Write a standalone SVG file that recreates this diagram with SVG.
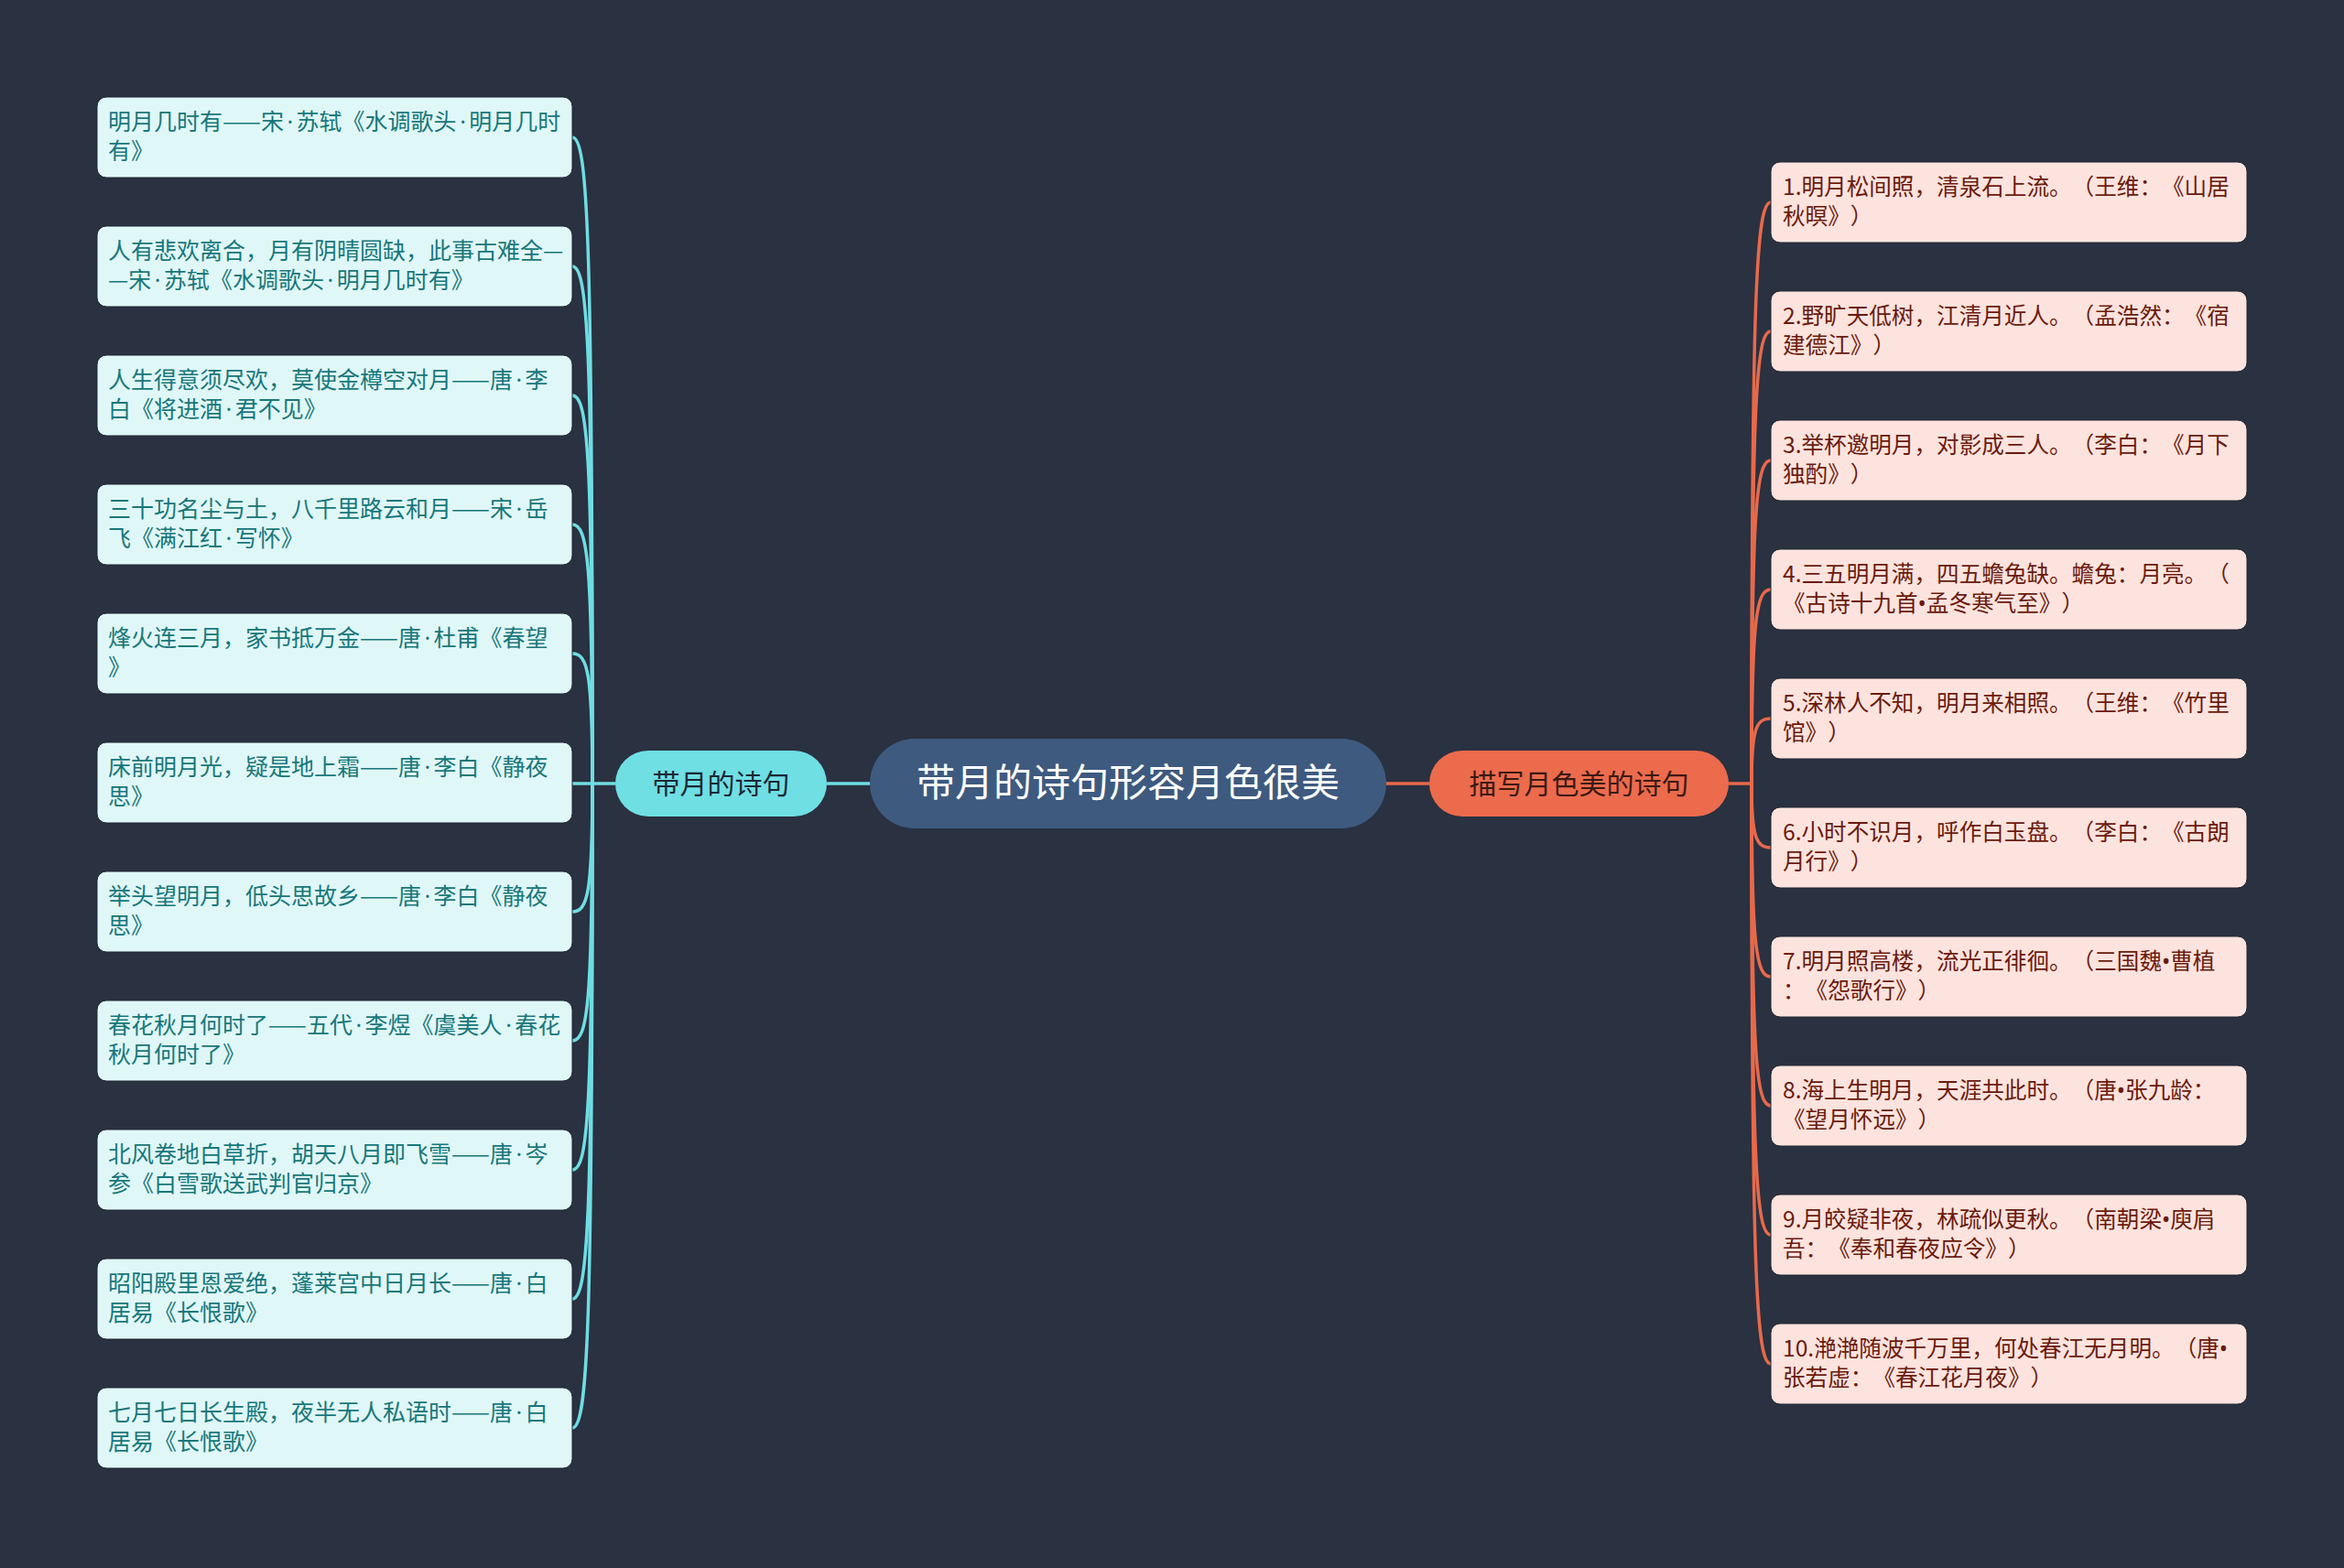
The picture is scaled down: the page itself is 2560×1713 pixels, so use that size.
<svg xmlns="http://www.w3.org/2000/svg" width="2560" height="1713" viewBox="0 0 2560 1713">
<style>
text{font-family:"Noto Sans CJK SC","Noto Sans",sans-serif;text-spacing-trim:space-all}
.d{font-family:"Noto Sans","Liberation Sans",sans-serif}
.m{letter-spacing:3.5px}
.lb{fill:#e0f7f7;stroke:#1f2633;stroke-width:1}
.lt{fill:#17777b;font-size:25px}
.rb{fill:#fde3de;stroke:#1f2633;stroke-width:1}
.rt{fill:#6b1a0c;font-size:24.6px}
.cl{fill:none;stroke:#6fdde3;stroke-width:3.5}
.cr{fill:none;stroke:#e8694b;stroke-width:3.5}
</style>
<rect width="2560" height="1713" fill="#2a3140"/>
<g id="connectors">
<path class="cl" d="M903 856H950"/>
<path class="cr" d="M1514 856H1561"/>
<path class="cl" d="M672 856H625"/>
<path class="cl" d="M647 856C647 256 642 150 625 150"/>
<path class="cl" d="M647 856C647 376 642 291 625 291"/>
<path class="cl" d="M647 856C647 496 642 432 625 432"/>
<path class="cl" d="M647 856C647 615 642 573 625 573"/>
<path class="cl" d="M647 856C647 735 642 714 625 714"/>
<path class="cl" d="M647 856C647 975 642 996 625 996"/>
<path class="cl" d="M647 856C647 1095 642 1137 625 1137"/>
<path class="cl" d="M647 856C647 1215 642 1278 625 1278"/>
<path class="cl" d="M647 856C647 1335 642 1419 625 1419"/>
<path class="cl" d="M647 856C647 1454 642 1560 625 1560"/>
<path class="cr" d="M1888 856H1913"/>
<path class="cr" d="M1913 856C1913 316 1918 221 1934 221"/>
<path class="cr" d="M1913 856C1913 436 1918 362 1934 362"/>
<path class="cr" d="M1913 856C1913 556 1918 503 1934 503"/>
<path class="cr" d="M1913 856C1913 676 1918 644 1934 644"/>
<path class="cr" d="M1913 856C1913 796 1918 785 1934 785"/>
<path class="cr" d="M1913 856C1913 915 1918 926 1934 926"/>
<path class="cr" d="M1913 856C1913 1035 1918 1067 1934 1067"/>
<path class="cr" d="M1913 856C1913 1155 1918 1208 1934 1208"/>
<path class="cr" d="M1913 856C1913 1275 1918 1349 1934 1349"/>
<path class="cr" d="M1913 856C1913 1395 1918 1490 1934 1490"/>
</g>
<g id="root">
<rect x="950" y="807" width="564" height="98" rx="49" fill="#3e5a7f"/>
<text x="1232" y="870" font-size="42" fill="#ffffff" text-anchor="middle">带月的诗句形容月色很美</text>
</g>
<g id="branch-left">
<rect x="672" y="820" width="231" height="72" rx="36" fill="#6fdfe4"/>
<text x="787.5" y="867" font-size="30" fill="#1d2733" text-anchor="middle">带月的诗句</text>
</g>
<g id="branch-right">
<rect x="1561" y="820" width="327" height="72" rx="36" fill="#ec6b4d"/>
<text x="1724.5" y="867" font-size="30" fill="#3b1a12" text-anchor="middle">描写月色美的诗句</text>
</g>
<g id="l1"><rect class="lb" x="106" y="106" width="519" height="88" rx="10"/><text class="lt" x="118" y="142">明月几时有——宋<tspan class="d m" dx="3.5">·</tspan>苏轼《水调歌头<tspan class="d m" dx="3.5">·</tspan>明月几时</text><text class="lt" x="118" y="174">有》</text></g>
<g id="l2"><rect class="lb" x="106" y="247" width="519" height="88" rx="10"/><text class="lt" x="118" y="283">人有悲欢离合，月有阴晴圆缺，此事古难全—</text><text class="lt" x="118" y="315">—宋<tspan class="d m" dx="3.5">·</tspan>苏轼《水调歌头<tspan class="d m" dx="3.5">·</tspan>明月几时有》</text></g>
<g id="l3"><rect class="lb" x="106" y="388" width="519" height="88" rx="10"/><text class="lt" x="118" y="424">人生得意须尽欢，莫使金樽空对月——唐<tspan class="d m" dx="3.5">·</tspan>李</text><text class="lt" x="118" y="456">白《将进酒<tspan class="d m" dx="3.5">·</tspan>君不见》</text></g>
<g id="l4"><rect class="lb" x="106" y="529" width="519" height="88" rx="10"/><text class="lt" x="118" y="565">三十功名尘与土，八千里路云和月——宋<tspan class="d m" dx="3.5">·</tspan>岳</text><text class="lt" x="118" y="597">飞《满江红<tspan class="d m" dx="3.5">·</tspan>写怀》</text></g>
<g id="l5"><rect class="lb" x="106" y="670" width="519" height="88" rx="10"/><text class="lt" x="118" y="706">烽火连三月，家书抵万金——唐<tspan class="d m" dx="3.5">·</tspan>杜甫《春望</text><text class="lt" x="118" y="738">》</text></g>
<g id="l6"><rect class="lb" x="106" y="811" width="519" height="88" rx="10"/><text class="lt" x="118" y="847">床前明月光，疑是地上霜——唐<tspan class="d m" dx="3.5">·</tspan>李白《静夜</text><text class="lt" x="118" y="879">思》</text></g>
<g id="l7"><rect class="lb" x="106" y="952" width="519" height="88" rx="10"/><text class="lt" x="118" y="988">举头望明月，低头思故乡——唐<tspan class="d m" dx="3.5">·</tspan>李白《静夜</text><text class="lt" x="118" y="1020">思》</text></g>
<g id="l8"><rect class="lb" x="106" y="1093" width="519" height="88" rx="10"/><text class="lt" x="118" y="1129">春花秋月何时了——五代<tspan class="d m" dx="3.5">·</tspan>李煜《虞美人<tspan class="d m" dx="3.5">·</tspan>春花</text><text class="lt" x="118" y="1161">秋月何时了》</text></g>
<g id="l9"><rect class="lb" x="106" y="1234" width="519" height="88" rx="10"/><text class="lt" x="118" y="1270">北风卷地白草折，胡天八月即飞雪——唐<tspan class="d m" dx="3.5">·</tspan>岑</text><text class="lt" x="118" y="1302">参《白雪歌送武判官归京》</text></g>
<g id="l10"><rect class="lb" x="106" y="1375" width="519" height="88" rx="10"/><text class="lt" x="118" y="1411">昭阳殿里恩爱绝，蓬莱宫中日月长——唐<tspan class="d m" dx="3.5">·</tspan>白</text><text class="lt" x="118" y="1443">居易《长恨歌》</text></g>
<g id="l11"><rect class="lb" x="106" y="1516" width="519" height="88" rx="10"/><text class="lt" x="118" y="1552">七月七日长生殿，夜半无人私语时——唐<tspan class="d m" dx="3.5">·</tspan>白</text><text class="lt" x="118" y="1584">居易《长恨歌》</text></g>
<g id="r1"><rect class="rb" x="1934" y="177" width="520" height="88" rx="10"/><text class="rt" x="1947" y="213">1.明月松间照，清泉石上流。（王维：《山居</text><text class="rt" x="1947" y="245">秋暝》）</text></g>
<g id="r2"><rect class="rb" x="1934" y="318" width="520" height="88" rx="10"/><text class="rt" x="1947" y="354">2.野旷天低树，江清月近人。（孟浩然：《宿</text><text class="rt" x="1947" y="386">建德江》）</text></g>
<g id="r3"><rect class="rb" x="1934" y="459" width="520" height="88" rx="10"/><text class="rt" x="1947" y="495">3.举杯邀明月，对影成三人。（李白：《月下</text><text class="rt" x="1947" y="527">独酌》）</text></g>
<g id="r4"><rect class="rb" x="1934" y="600" width="520" height="88" rx="10"/><text class="rt" x="1947" y="636">4.三五明月满，四五蟾兔缺。蟾兔：月亮。（</text><text class="rt" x="1947" y="668">《古诗十九首<tspan class="d">•</tspan>孟冬寒气至》）</text></g>
<g id="r5"><rect class="rb" x="1934" y="741" width="520" height="88" rx="10"/><text class="rt" x="1947" y="777">5.深林人不知，明月来相照。（王维：《竹里</text><text class="rt" x="1947" y="809">馆》）</text></g>
<g id="r6"><rect class="rb" x="1934" y="882" width="520" height="88" rx="10"/><text class="rt" x="1947" y="918">6.小时不识月，呼作白玉盘。（李白：《古朗</text><text class="rt" x="1947" y="950">月行》）</text></g>
<g id="r7"><rect class="rb" x="1934" y="1023" width="520" height="88" rx="10"/><text class="rt" x="1947" y="1059">7.明月照高楼，流光正徘徊。（三国魏<tspan class="d">•</tspan>曹植</text><text class="rt" x="1947" y="1091">：《怨歌行》）</text></g>
<g id="r8"><rect class="rb" x="1934" y="1164" width="520" height="88" rx="10"/><text class="rt" x="1947" y="1200">8.海上生明月，天涯共此时。（唐<tspan class="d">•</tspan>张九龄：</text><text class="rt" x="1947" y="1232">《望月怀远》）</text></g>
<g id="r9"><rect class="rb" x="1934" y="1305" width="520" height="88" rx="10"/><text class="rt" x="1947" y="1341">9.月皎疑非夜，林疏似更秋。（南朝梁<tspan class="d">•</tspan>庾肩</text><text class="rt" x="1947" y="1373">吾：《奉和春夜应令》）</text></g>
<g id="r10"><rect class="rb" x="1934" y="1446" width="520" height="88" rx="10"/><text class="rt" x="1947" y="1482">10.滟滟随波千万里，何处春江无月明。（唐<tspan class="d">•</tspan></text><text class="rt" x="1947" y="1514">张若虚：《春江花月夜》）</text></g>
</svg>
